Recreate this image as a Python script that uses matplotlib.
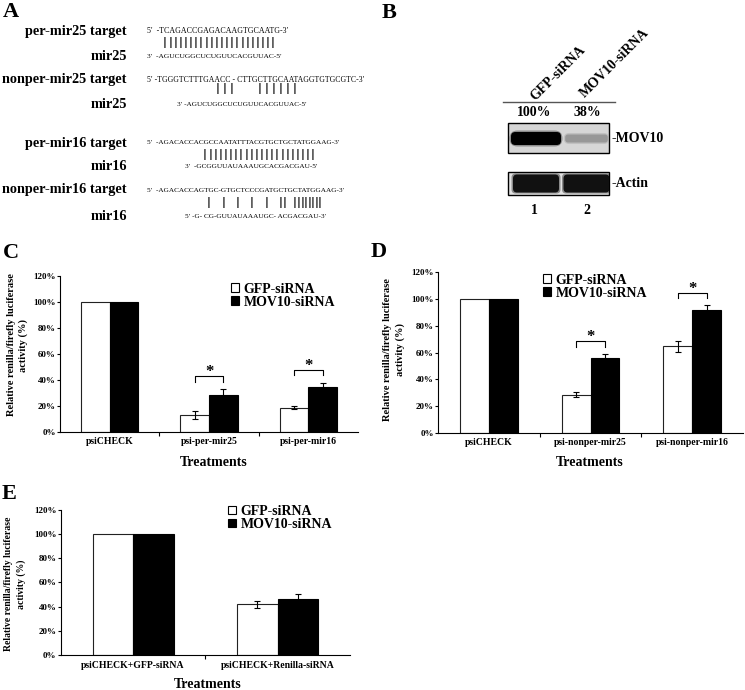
import matplotlib
matplotlib.use('Agg')
import matplotlib.pyplot as plt
from matplotlib.patches import Patch, Rectangle, FancyBboxPatch
from matplotlib.lines import Line2D
from matplotlib.ticker import PercentFormatter
import numpy as np

plt.rcParams['font.family'] = ['Liberation Serif', 'DejaVu Serif']
plt.rcParams['font.weight'] = 'bold'

# ---- data ----
y_ticks = [0, 0.2, 0.4, 0.6, 0.8, 1.0, 1.2]
legend_labels = ['GFP-siRNA', 'MOV10-siRNA']

c_labels = ['psiCHECK', 'psi-per-mir25', 'psi-per-mir16']
c_gfp = [1.00, 0.130, 0.187]
c_gfp_err = [0, 0.030, 0.011]
c_mov = [1.00, 0.283, 0.345]
c_mov_err = [0, 0.045, 0.030]
c_sig = [(1, 0.43, 0.385), (2, 0.48, 0.435)]   # group, bracket top, bracket foot

d_labels = ['psiCHECK', 'psi-nonper-mir25', 'psi-nonper-mir16']
d_gfp = [1.00, 0.283, 0.646]
d_gfp_err = [0, 0.018, 0.042]
d_mov = [1.00, 0.559, 0.915]
d_mov_err = [0, 0.027, 0.040]
d_sig = [(1, 0.686, 0.643), (2, 1.047, 1.005)]

e_labels = ['psiCHECK+GFP-siRNA', 'psiCHECK+Renilla-siRNA']
e_gfp = [1.00, 0.420]
e_gfp_err = [0, 0.030]
e_mov = [1.00, 0.465]
e_mov_err = [0, 0.043]

seq_names = ['per-mir25 target', 'mir25', 'nonper-mir25 target', 'mir25',
             'per-mir16 target', 'mir16', 'nonper-mir16 target', 'mir16']
seq_strings = ['5′  -TCAGACCGAGACAAGTGCAATG-3′',
               '3′  -AGUCUGGCUCUGUUCACGUUAC-5′',
               '5′ -TGGGTCTTTGAACC - CTTGCTTGCAATAGGTGTGCGTC-3′',
               '3′ -AGUCUGGCUCUGUUCACGUUAC-5′',
               '5′  -AGACACCACGCCAATATTTACGTGCTGCTATGGAAG-3′',
               '3′  -GCGGUUAUAAAUGCACGACGAU-5′',
               '5′  -AGACACCAGTGC-GTGCTCCCGATGCTGCTATGGAAG-3′',
               '5′ -G- CG-GUUAUAAAUGC- ACGACGAU-3′']
pair_strings = ['|' * 22, '|||   ||||||', '|' * 22,
                '|   |   |   |   |   ||  ||||||||']

lane_names = ['GFP-siRNA', 'MOV10-siRNA']
lane_pct = ['100%', '38%']
lane_numbers = ['1', '2']
mov10_level = [1.00, 0.38]
actin_level = [1.00, 1.00]

# ---- layout (pixels of the 745x690 picture) ----
W, H = 745, 690
fig = plt.figure(figsize=(W / 100, H / 100), dpi=100)
renderer = fig.canvas.get_renderer()


def put(x, y, s, **kw):
    return fig.text(x / W, 1 - y / H, s, **kw)


def put_fit(x0, x1, y, s, min_size=5.2, **kw):
    # size the font so the string spans x0..x1, but keep it readable
    t = put(x0, y, s, ha='left', va='center', fontsize=6, **kw)
    w = t.get_window_extent(renderer).width
    t.set_fontsize(max(min_size, 6 * (x1 - x0) / w))
    return t


def put_pairs(x0, x1, y, pattern):
    n = len(pattern) - 1
    for i, ch in enumerate(pattern):
        if ch == '|':
            put(x0 + (x1 - x0) * i / n, y, '|', ha='center', va='center',
                fontsize=7.5, family='DejaVu Sans', fontweight='bold')


def add_ax(left, top, right, bottom):
    return fig.add_axes([left / W, 1 - bottom / H, (right - left) / W, (bottom - top) / H])


def bar_panel(ax, labels, gfp, gfp_err, mov, mov_err, width, leg_xy, sig, lpad):
    x = np.arange(len(labels)) + 0.5
    ax.bar(x - width / 2, gfp, width, color='white', edgecolor='#222222', linewidth=0.8, zorder=2)
    ax.bar(x + width / 2, mov, width, color='black', edgecolor='black', linewidth=0.8, zorder=2)
    ax.errorbar(x[1:] - width / 2, gfp[1:], yerr=gfp_err[1:], fmt='none', ecolor='black',
                elinewidth=0.8, capsize=2.5, capthick=0.8, zorder=3)
    ax.errorbar(x[1:] + width / 2, mov[1:], yerr=mov_err[1:], fmt='none', ecolor='black',
                elinewidth=0.8, capsize=2.5, capthick=0.8, zorder=3)
    for i, top, foot in sig:
        xa, xb = x[i] - width / 2, x[i] + width / 2
        ax.plot([xa, xa, xb, xb], [foot, top, top, foot], color='black', lw=0.8)
        ax.text(x[i], top, '*', ha='center', va='baseline', fontsize=12)
    ax.set_xlim(0, len(labels))
    ax.set_ylim(0, 1.2)
    ax.set_yticks(y_ticks)
    ax.yaxis.set_major_formatter(PercentFormatter(1.0, decimals=0))
    ax.set_xticks(x)
    ax.set_xticklabels(labels)
    ax.set_xticks(np.arange(1, len(labels)), minor=True)
    ax.tick_params(axis='y', length=2, width=0.8, pad=1, labelsize=6.5)
    ax.tick_params(axis='x', length=0, pad=lpad, labelsize=7)
    ax.tick_params(axis='x', which='minor', length=3, width=0.8, direction='out')
    for s in ['top', 'right']:
        ax.spines[s].set_visible(False)
    for s in ['left', 'bottom']:
        ax.spines[s].set_linewidth(0.8)
    handles = [Patch(facecolor='white', edgecolor='black', linewidth=0.8),
               Patch(facecolor='black', edgecolor='black', linewidth=0.8)]
    ax.legend(handles, legend_labels, loc='center left', bbox_to_anchor=leg_xy, frameon=False,
              prop={'size': 10, 'weight': 'bold'}, handlelength=0.55, handleheight=0.55,
              handletextpad=0.35, labelspacing=0, borderpad=0, borderaxespad=0)


ylab = 'Relative renilla/firefly luciferase\nactivity (%)'

# ---- panel A ----
put(3, 17, 'A', fontsize=16, va='baseline')
name_y = [31, 57, 80, 105, 143, 167, 190, 217]
seq_x = [(147, 287), (147, 283), (147, 363), (177, 298),
         (147, 328), (185, 308), (147, 328), (185, 290)]
for name, s, y, (x0, x1) in zip(seq_names, seq_strings, name_y, seq_x):
    put(127, y, name, ha='right', va='center', fontsize=10.3)
    put_fit(x0, x1, y, s, fontweight='normal')
pair_pos = [(165, 273, 43), (218, 295, 88), (205, 313, 155), (209, 320, 202)]
for p, (x0, x1, y) in zip(pair_strings, pair_pos):
    put_pairs(x0, x1, y, p)

# ---- panel B ----
put(382, 18, 'B', fontsize=16, va='baseline')
for name, (ax_, ay_) in zip(lane_names, [(535, 101), (585, 98)]):
    put(ax_, ay_, name, rotation=45, rotation_mode='anchor', ha='left', va='baseline', fontsize=10)
fig.add_artist(Line2D([503 / W, 615 / W], [1 - 102 / H, 1 - 102 / H], color='#555555', lw=1))
for pct, num, lx in zip(lane_pct, lane_numbers, [534, 587]):
    put(lx, 113, pct, ha='center', va='center', fontsize=10)
    put(lx, 211, num, ha='center', va='center', fontsize=10)
put(612, 138, '-MOV10', ha='left', va='center', fontsize=10)
put(612, 184, '-Actin', ha='left', va='center', fontsize=10)

bax = add_ax(508, 123, 609, 195)
bax.set_xlim(0, 101)
bax.set_ylim(72, 0)
bax.axis('off')
bax.add_patch(Rectangle((0, 0), 101, 30, facecolor='#d6d6d6', edgecolor='black', lw=1, clip_on=False))
bax.add_patch(Rectangle((0, 49), 101, 23, facecolor='#e2e2e2', edgecolor='black', lw=1, clip_on=False))
lane_x = [28, 78.5]
for lx, lv in zip(lane_x, mov10_level):
    h = 5 + 8 * lv
    w = 38 + 12 * lv
    g = 0.75 * (1 - lv) ** 0.5
    col = (g, g, g)
    bax.add_patch(FancyBboxPatch((lx - w / 2 - 1.5, 15.5 - h / 2 - 1.5), w + 3, h + 3,
                                 boxstyle='round,pad=0,rounding_size=%f' % ((h + 3) / 2),
                                 facecolor=col, edgecolor='none', alpha=0.35))
    bax.add_patch(FancyBboxPatch((lx - w / 2, 15.5 - h / 2), w, h,
                                 boxstyle='round,pad=0,rounding_size=%f' % (h / 3),
                                 facecolor=col, edgecolor='none'))
for lx, lv in zip(lane_x, actin_level):
    h = 18 * lv
    w = 46
    bax.add_patch(FancyBboxPatch((lx - w / 2 - 1.5, 60.5 - h / 2 - 1), w + 3, h + 2,
                                 boxstyle='round,pad=0,rounding_size=4',
                                 facecolor='#333333', edgecolor='none', alpha=0.5))
    bax.add_patch(FancyBboxPatch((lx - w / 2, 60.5 - h / 2), w, h,
                                 boxstyle='round,pad=0,rounding_size=4',
                                 facecolor='#111111', edgecolor='none'))

# ---- panel C ----
put(3, 258, 'C', fontsize=16, va='baseline')
axc = add_ax(60, 275.6, 358, 432.3)
bar_panel(axc, c_labels, c_gfp, c_gfp_err, c_mov, c_mov_err, 0.29,
          (0.575, 0.873), c_sig, 3.5)
put(17.5, 345, ylab, rotation=90, ha='center', va='center', multialignment='center',
    fontsize=7.5, linespacing=1.45)
put(214, 462, 'Treatments', ha='center', va='center', fontsize=10)

# ---- panel D ----
put(371, 257, 'D', fontsize=16, va='baseline')
axd = add_ax(438, 272.3, 743, 432.7)
bar_panel(axd, d_labels, d_gfp, d_gfp_err, d_mov, d_mov_err, 0.285,
          (0.344, 0.911), d_sig, 3.5)
put(394, 350, ylab, rotation=90, ha='center', va='center', multialignment='center',
    fontsize=7.5, linespacing=1.45)
put(590, 462, 'Treatments', ha='center', va='center', fontsize=10)

# ---- panel E ----
put(2, 499, 'E', fontsize=16, va='baseline')
axe = add_ax(60.7, 509.8, 350, 655)
bar_panel(axe, e_labels, e_gfp, e_gfp_err, e_mov, e_mov_err, 0.28,
          (0.578, 0.944), [], 4.5)
put(15, 584, ylab, rotation=90, ha='center', va='center', multialignment='center',
    fontsize=7, linespacing=1.55)
put(208, 685, 'Treatments', ha='center', va='center', fontsize=10)

fig.savefig('out.png', dpi=100)
